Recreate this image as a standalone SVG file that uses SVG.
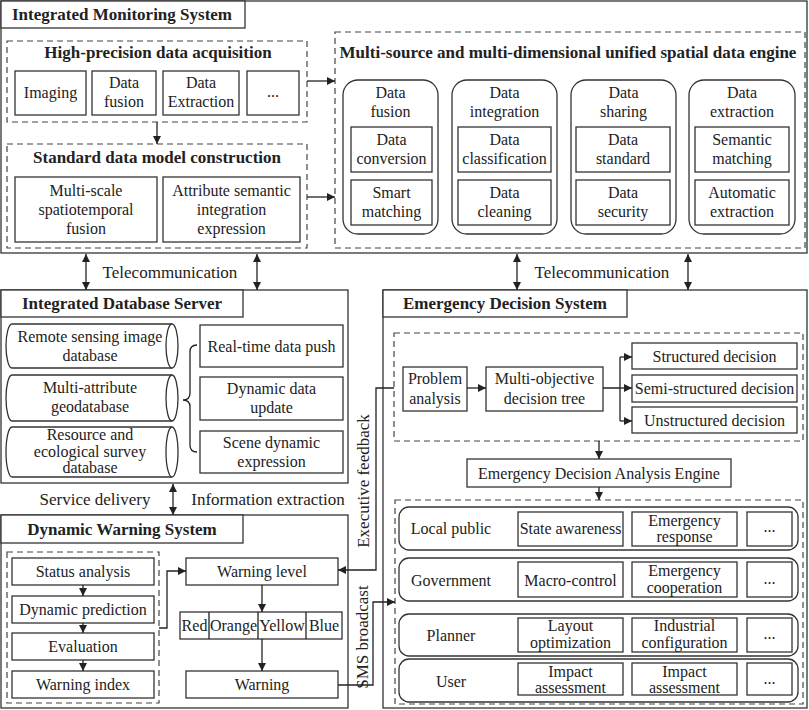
<svg xmlns="http://www.w3.org/2000/svg" width="809" height="710" viewBox="0 0 809 710" font-family="'Liberation Serif', 'Times New Roman', 'DejaVu Serif', serif">
<defs>
<marker id="ah" viewBox="0 0 10 10" refX="10" refY="5" markerWidth="8" markerHeight="8" markerUnits="userSpaceOnUse" orient="auto-start-reverse"><path d="M0,0 L10,5 L0,10 z" fill="#222"/></marker>
<style>
text{font-family:'Liberation Serif','Times New Roman','DejaVu Serif',serif;fill:#222;}
.t{font-size:16px;text-anchor:middle;}
.s{font-size:17px;text-anchor:middle;}
.b{font-size:17px;font-weight:bold;text-anchor:middle;}
.box{fill:#fff;stroke:#333;stroke-width:1.3;}
.dash{fill:none;stroke:#444;stroke-width:1.2;stroke-dasharray:6,4;}
.ln{fill:none;stroke:#222;stroke-width:1.3;}
.ar{fill:none;stroke:#222;stroke-width:1.3;marker-end:url(#ah);}
.ar2{fill:none;stroke:#222;stroke-width:1.3;marker-end:url(#ah);marker-start:url(#ah);}
</style>
</defs>
<rect width="809" height="710" fill="#fff"/>

<g id="monitoring">
<rect class="box" x="1" y="1" width="806" height="252"/>
<rect class="box" x="1" y="1" width="244" height="27"/>
<text class="b" x="122" y="20">Integrated Monitoring System</text>
</g>

<g id="acquisition">
<rect class="dash" x="7" y="41" width="300" height="81"/>
<text class="b" x="158" y="58">High-precision data acquisition</text>
<rect class="box" x="15" y="71" width="71" height="44"/><text class="t" x="50.5" y="98">Imaging</text>
<rect class="box" x="92" y="71" width="64" height="44"/><text class="t" x="124" y="88">Data</text><text class="t" x="124" y="107">fusion</text>
<rect class="box" x="163" y="71" width="76" height="44"/><text class="t" x="201" y="88">Data</text><text class="t" x="201" y="107">Extraction</text>
<rect class="box" x="247" y="71" width="52" height="44"/><text class="t" x="273" y="97">...</text>
</g>

<g id="standard">
<rect class="dash" x="7" y="144" width="300" height="104"/>
<text class="b" x="157" y="163">Standard data model construction</text>
<rect class="box" x="15" y="177" width="142" height="65"/>
<text class="t" x="86" y="196">Multi-scale</text><text class="t" x="86" y="215">spatiotemporal</text><text class="t" x="86" y="234">fusion</text>
<rect class="box" x="163" y="177" width="137" height="65"/>
<text class="t" x="231.5" y="196">Attribute semantic</text><text class="t" x="231.5" y="215">integration</text><text class="t" x="231.5" y="234">expression</text>
</g>

<g id="engine">
<rect class="dash" x="335" y="32" width="470" height="216"/>
<text class="b" x="568" y="58">Multi-source and multi-dimensional unified spatial data engine</text>
<rect class="box" x="343" y="80" width="95" height="154" rx="15"/>
<text class="t" x="390.5" y="98">Data</text><text class="t" x="390.5" y="117">fusion</text>
<rect class="box" x="351" y="127" width="81" height="45"/><text class="t" x="391.5" y="145">Data</text><text class="t" x="391.5" y="164">conversion</text>
<rect class="box" x="351" y="180" width="81" height="45"/><text class="t" x="391.5" y="198">Smart</text><text class="t" x="391.5" y="217">matching</text>
<rect class="box" x="452" y="80" width="105" height="154" rx="15"/>
<text class="t" x="504.5" y="98">Data</text><text class="t" x="504.5" y="117">integration</text>
<rect class="box" x="458" y="127" width="93" height="45"/><text class="t" x="504.5" y="145">Data</text><text class="t" x="504.5" y="164">classification</text>
<rect class="box" x="458" y="180" width="93" height="45"/><text class="t" x="504.5" y="198">Data</text><text class="t" x="504.5" y="217">cleaning</text>
<rect class="box" x="571" y="80" width="105" height="154" rx="15"/>
<text class="t" x="623.5" y="98">Data</text><text class="t" x="623.5" y="117">sharing</text>
<rect class="box" x="576" y="127" width="94" height="45"/><text class="t" x="623" y="145">Data</text><text class="t" x="623" y="164">standard</text>
<rect class="box" x="576" y="180" width="94" height="45"/><text class="t" x="623" y="198">Data</text><text class="t" x="623" y="217">security</text>
<rect class="box" x="689" y="80" width="106" height="154" rx="15"/>
<text class="t" x="742" y="98">Data</text><text class="t" x="742" y="117">extraction</text>
<rect class="box" x="695" y="127" width="94" height="45"/><text class="t" x="742" y="145">Semantic</text><text class="t" x="742" y="164">matching</text>
<rect class="box" x="695" y="180" width="94" height="45"/><text class="t" x="742" y="198">Automatic</text><text class="t" x="742" y="217">extraction</text>
</g>

<g id="database">
<rect class="box" x="1" y="290" width="347" height="193"/>
<rect class="box" x="1" y="290" width="242" height="27"/>
<text class="b" x="122" y="309">Integrated Database Server</text>
<path class="box" d="M172,324 H12 A6,22 0 0 0 12,368 H172"/><ellipse class="box" cx="172" cy="346" rx="6" ry="22"/>
<text class="t" x="90" y="342">Remote sensing image</text><text class="t" x="90" y="361">database</text>
<path class="box" d="M172,375 H12 A6,23 0 0 0 12,421 H172"/><ellipse class="box" cx="172" cy="398" rx="6" ry="23"/>
<text class="t" x="90" y="393">Multi-attribute</text><text class="t" x="90" y="412">geodatabase</text>
<path class="box" d="M172,427 H12 A6,25 0 0 0 12,477 H172"/><ellipse class="box" cx="172" cy="452" rx="6" ry="25"/>
<text class="t" x="90" y="440">Resource and</text><text class="t" x="90" y="457">ecological survey</text><text class="t" x="90" y="473">database</text>
<path class="ln" d="M197,345 Q190,345 190,352 V393 Q190,400 183,400 Q190,400 190,407 V445 Q190,452 197,452"/>
<rect class="box" x="200" y="325" width="143" height="42"/><text class="t" x="271.5" y="352">Real-time data push</text>
<rect class="box" x="200" y="377" width="143" height="43"/><text class="t" x="271.5" y="394">Dynamic data</text><text class="t" x="271.5" y="413">update</text>
<rect class="box" x="200" y="431" width="143" height="42"/><text class="t" x="271.5" y="448">Scene dynamic</text><text class="t" x="271.5" y="467">expression</text>
</g>

<g id="warning">
<rect class="box" x="1" y="515" width="347" height="193"/>
<rect class="box" x="1" y="515" width="242" height="28"/>
<text class="b" x="122" y="535">Dynamic Warning System</text>
<rect class="dash" x="7" y="552" width="152" height="151"/>
<rect class="box" x="12" y="558" width="142" height="27"/><text class="t" x="83" y="577">Status analysis</text>
<rect class="box" x="12" y="596" width="142" height="27"/><text class="t" x="83" y="615">Dynamic prediction</text>
<rect class="box" x="12" y="633" width="142" height="27"/><text class="t" x="83" y="652">Evaluation</text>
<rect class="box" x="12" y="671" width="142" height="27"/><text class="t" x="83" y="690">Warning index</text>
<rect class="box" x="186" y="558" width="152" height="27"/><text class="t" x="262" y="577">Warning level</text>
<rect class="box" x="180" y="612" width="162" height="27"/>
<path class="ln" d="M209,612 V639 M258,612 V639 M306,612 V639"/>
<text class="t" x="194.5" y="631">Red</text><text class="t" x="233.5" y="631">Orange</text><text class="t" x="282" y="631">Yellow</text><text class="t" x="324" y="631">Blue</text>
<rect class="box" x="186" y="671" width="152" height="27"/><text class="t" x="262" y="690">Warning</text>
</g>

<g id="decision">
<rect class="box" x="383" y="290" width="424" height="418"/>
<rect class="box" x="383" y="290" width="244" height="27"/>
<text class="b" x="505" y="309">Emergency Decision System</text>
<rect class="dash" x="394" y="333" width="409" height="108"/>
<rect class="box" x="403" y="367" width="64" height="44"/><text class="t" x="435" y="384">Problem</text><text class="t" x="435" y="404">analysis</text>
<rect class="box" x="486" y="367" width="117" height="44"/><text class="t" x="544.5" y="384">Multi-objective</text><text class="t" x="544.5" y="404">decision tree</text>
<rect class="box" x="632" y="343" width="165" height="26"/><text class="t" x="714.5" y="362">Structured decision</text>
<rect class="box" x="632" y="375" width="165" height="27"/><text class="t" x="714.5" y="394">Semi-structured decision</text>
<rect class="box" x="632" y="407" width="165" height="26"/><text class="t" x="714.5" y="426">Unstructured decision</text>
<rect class="box" x="467" y="459" width="264" height="28"/><text class="t" x="599" y="479">Emergency Decision Analysis Engine</text>
<rect class="dash" x="395" y="500" width="408" height="204"/>
<rect class="box" x="399" y="507" width="399" height="43" rx="10"/>
<text class="t" x="451" y="534">Local public</text>
<rect class="box" x="518" y="512" width="105" height="34"/><text class="t" x="570.5" y="534">State awareness</text>
<rect class="box" x="632" y="512" width="105" height="34"/><text class="t" x="684.5" y="526">Emergency</text><text class="t" x="684.5" y="542">response</text>
<rect class="box" x="747" y="512" width="45" height="34"/><text class="t" x="769.5" y="532">...</text>
<rect class="box" x="399" y="558" width="399" height="43" rx="10"/>
<text class="t" x="451" y="586">Government</text>
<rect class="box" x="518" y="562" width="105" height="35"/><text class="t" x="570.5" y="586">Macro-control</text>
<rect class="box" x="632" y="562" width="105" height="35"/><text class="t" x="684.5" y="576">Emergency</text><text class="t" x="684.5" y="593">cooperation</text>
<rect class="box" x="747" y="562" width="45" height="35"/><text class="t" x="769.5" y="584">...</text>
<rect class="box" x="399" y="614" width="399" height="42" rx="10"/>
<text class="t" x="451" y="641">Planner</text>
<rect class="box" x="518" y="618" width="105" height="34"/><text class="t" x="570.5" y="631">Layout</text><text class="t" x="570.5" y="648">optimization</text>
<rect class="box" x="632" y="618" width="105" height="34"/><text class="t" x="684.5" y="631">Industrial</text><text class="t" x="684.5" y="648">configuration</text>
<rect class="box" x="747" y="618" width="45" height="34"/><text class="t" x="769.5" y="639">...</text>
<rect class="box" x="399" y="659" width="399" height="43" rx="10"/>
<text class="t" x="451" y="687">User</text>
<rect class="box" x="518" y="663" width="105" height="32"/><text class="t" x="570.5" y="677">Impact</text><text class="t" x="570.5" y="693">assessment</text>
<rect class="box" x="632" y="663" width="105" height="32"/><text class="t" x="684.5" y="677">Impact</text><text class="t" x="684.5" y="693">assessment</text>
<rect class="box" x="747" y="663" width="45" height="32"/><text class="t" x="769.5" y="684">...</text>
</g>

<g id="connectors">
<path class="ar" d="M157,122 V144"/>
<path class="ar" d="M307,81 H335"/>
<path class="ar" d="M307,197 H335"/>
<path class="ar2" d="M86,254 V290"/>
<path class="ar2" d="M257,254 V290"/>
<path class="ar2" d="M517,254 V290"/>
<path class="ar2" d="M688,254 V290"/>
<text class="s" x="170" y="278">Telecommunication</text>
<text class="s" x="602" y="278">Telecommunication</text>
<path class="ar2" d="M173,484 V515"/>
<text class="s" x="95" y="505">Service delivery</text>
<text class="s" x="268" y="505">Information extraction</text>
<path class="ar" d="M467,388 H486"/>
<path class="ln" d="M603,388 H620 M620,357 V421"/>
<path class="ar" d="M620,357 H632"/>
<path class="ar" d="M620,388 H632"/>
<path class="ar" d="M620,421 H632"/>
<path class="ar" d="M599,441 V459"/>
<path class="ar" d="M599,487 V500"/>
<path class="ar" d="M83,585 V596"/>
<path class="ar" d="M83,623 V633"/>
<path class="ar" d="M83,660 V671"/>
<path class="ar" d="M159,628 H167 V571 H186"/>
<path class="ar" d="M262,585 V612"/>
<path class="ar" d="M262,639 V671"/>
<path class="ar" d="M394,388 H376 V570 H338"/>
<path class="ar" d="M338,685 H373 V602 H395"/>
<text class="s" x="0" y="0" transform="translate(369,481) rotate(-90)">Executive feedback</text>
<text class="s" x="0" y="0" transform="translate(368,637) rotate(-90)">SMS broadcast</text>
</g>
</svg>
